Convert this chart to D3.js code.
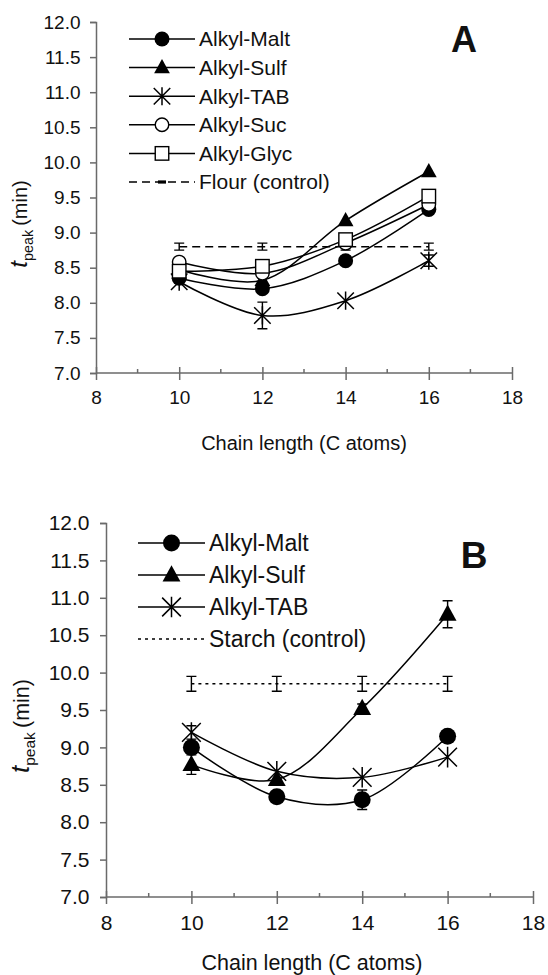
<!DOCTYPE html>
<html><head><meta charset="utf-8">
<script src="https://cdn.jsdelivr.net/npm/d3@7"></script>
<style>
body{margin:0;background:#fff}
svg{display:block}
text{font-family:"Liberation Sans",Arial,Helvetica,sans-serif;fill:#111}
</style>
</head><body>
<svg id="chart" width="548" height="975"></svg>
<script>
// ---------- data ----------
const chainLengths = [10, 12, 14, 16];
const xTickValues = [8, 10, 12, 14, 16, 18];
const xMinorTicks = [9, 11, 13, 15, 17];
const yTickValues = [7.0, 7.5, 8.0, 8.5, 9.0, 9.5, 10.0, 10.5, 11.0, 11.5, 12.0];

// Panel A (flour)
const namesA = ["Alkyl-Malt", "Alkyl-Sulf", "Alkyl-TAB", "Alkyl-Suc", "Alkyl-Glyc", "Flour (control)"];
const maltA  = [8.35, 8.20, 8.60, 9.33];
const sulfA  = [8.47, 8.32, 9.17, 9.87];
const tabA   = [8.30, 7.82, 8.03, 8.60];
const sucA   = [8.58, 8.42, 8.85, 9.40];
const glycA  = [8.45, 8.52, 8.90, 9.52];
const flourA = [8.80, 8.80, 8.80, 8.80];
const flourErrA = [0.05, 0.05, 0.05, 0.05];
const tabErrA   = [0, 0.19, 0, 0.08];

// Panel B (starch)
const namesB = ["Alkyl-Malt", "Alkyl-Sulf", "Alkyl-TAB", "Starch (control)"];
const maltB   = [9.00, 8.34, 8.30, 9.15];
const sulfB   = [8.77, 8.57, 9.52, 10.78];
const tabB    = [9.20, 8.68, 8.60, 8.87];
const starchB = [9.85, 9.85, 9.85, 9.85];
const starchErrB = [0.10, 0.10, 0.10, 0.10];
const maltErrB   = [0.05, 0, 0.13, 0];
const sulfErrB   = [0.13, 0, 0.06, 0.18];
const tabErrB    = [0.09, 0, 0, 0];

// ---------- drawing ----------
const svg = d3.select("#chart");

function marker(g, type, x, y, s) {
  const sw = 1.4;
  if (type === "circle") {
    g.append("circle").attr("cx", x).attr("cy", y).attr("r", s).attr("fill", "#000");
  } else if (type === "ocircle") {
    g.append("circle").attr("cx", x).attr("cy", y).attr("r", s * 0.9).attr("fill", "#fff").attr("stroke", "#000").attr("stroke-width", sw);
  } else if (type === "triangle") {
    const h = s * 1.9, w = s * 2.1;
    g.append("path").attr("d", `M${x},${y - h * 0.6}L${x + w / 2},${y + h * 0.4}L${x - w / 2},${y + h * 0.4}Z`).attr("fill", "#000");
  } else if (type === "square") {
    const a = s * 0.9;
    g.append("rect").attr("x", x - a).attr("y", y - a).attr("width", 2 * a).attr("height", 2 * a).attr("fill", "#fff").attr("stroke", "#000").attr("stroke-width", sw);
  } else if (type === "star") {
    const a = s * 1.1;
    g.append("path").attr("d", `M${x - a},${y - a}L${x + a},${y + a}M${x - a},${y + a}L${x + a},${y - a}M${x},${y - a * 1.1}L${x},${y + a * 1.1}`)
      .attr("stroke", "#000").attr("stroke-width", 1.5).attr("fill", "none");
  } else if (type === "dash") {
    g.append("rect").attr("x", x - 4).attr("y", y - 1.6).attr("width", 8).attr("height", 3.2).attr("fill", "#000");
  }
}

function drawPanel(cfg) {
  const g = svg.append("g");
  const x = d3.scaleLinear().domain([8, 18]).range([cfg.left, cfg.right]);
  const y = d3.scaleLinear().domain([7, 12]).range([cfg.bottom, cfg.top]);
  const axisColor = "#6a6a6a";

  // y axis
  const yAxis = g.append("g").attr("transform", `translate(${cfg.left},0)`)
    .call(d3.axisLeft(y).tickValues(yTickValues).tickFormat(d3.format(".1f")).tickSize(6).tickPadding(cfg.tickFont * 0.5));
  yAxis.select(".domain").attr("stroke", axisColor).attr("stroke-width", 1.5);
  yAxis.selectAll(".tick line").attr("stroke", axisColor).attr("stroke-width", 1.5);
  yAxis.selectAll(".tick text").attr("font-size", cfg.tickFont).attr("fill", "#111")
    .style("font-family", '"Liberation Sans",Arial,sans-serif');

  // x axis
  const xAxis = g.append("g").attr("transform", `translate(0,${cfg.bottom})`)
    .call(d3.axisBottom(x).tickValues(xTickValues).tickFormat(d3.format("d")).tickSize(7).tickPadding(cfg.tickFont * 0.55));
  xAxis.select(".domain").attr("stroke", axisColor).attr("stroke-width", 1.5).attr("d", `M${cfg.left},0H${cfg.right}`);
  xAxis.selectAll(".tick line").attr("stroke", axisColor).attr("stroke-width", 1.5).attr("y1", -6).attr("y2", 7);
  xAxis.selectAll(".tick text").attr("font-size", cfg.tickFont).attr("fill", "#111")
    .style("font-family", '"Liberation Sans",Arial,sans-serif');
  g.append("g").selectAll("line").data(xMinorTicks).join("line")
    .attr("x1", d => x(d)).attr("x2", d => x(d)).attr("y1", cfg.bottom - 4).attr("y2", cfg.bottom)
    .attr("stroke", axisColor).attr("stroke-width", 1.5);

  // axis titles
  g.append("text").attr("x", cfg.xTitleX).attr("y", cfg.xTitleY).attr("text-anchor", "middle")
    .attr("font-size", cfg.titleFont).text("Chain length (C atoms)");
  const yt = g.append("text").attr("transform", `translate(${cfg.yTitleX},${cfg.yTitleY}) rotate(-90)`)
    .attr("text-anchor", "middle");
  yt.append("tspan").attr("font-style", "italic").attr("font-size", cfg.titleFont * 1.2).text("t");
  yt.append("tspan").attr("font-size", cfg.titleFont * 0.72).attr("dy", cfg.titleFont * 0.3).text("peak");
  yt.append("tspan").attr("font-size", cfg.titleFont).attr("dy", -cfg.titleFont * 0.3).text("\u2009(min)");

  // panel letter
  g.append("text").attr("x", cfg.letterX).attr("y", cfg.letterY).attr("text-anchor", "middle")
    .attr("font-size", cfg.letterFont).attr("font-weight", "bold").text(cfg.letter);

  // control line
  const line = d3.line().x((d, i) => x(chainLengths[i])).y(d => y(d));
  g.append("path").attr("d", line(cfg.control.values)).attr("fill", "none").attr("stroke", "#000")
    .attr("stroke-width", 1.5).attr("stroke-dasharray", cfg.control.dash);

  // series lines
  const smooth = d3.line().x((d, i) => x(chainLengths[i])).y(d => y(d)).curve(d3.curveCatmullRom.alpha(0.5));
  cfg.series.forEach(s => {
    g.append("path").attr("d", smooth(s.values)).attr("fill", "none").attr("stroke", "#000").attr("stroke-width", 1.5);
  });

  // error bars
  const allErr = cfg.series.filter(s => s.err).concat([cfg.control]);
  allErr.forEach(s => {
    s.values.forEach((v, i) => {
      const e = s.err[i];
      if (!e) return;
      const cx = x(chainLengths[i]);
      const y1 = y(v - e), y2 = y(v + e);
      g.append("path").attr("d", `M${cx},${y1}V${y2}M${cx - 5},${y1}H${cx + 5}M${cx - 5},${y2}H${cx + 5}`)
        .attr("stroke", "#000").attr("stroke-width", 1.4).attr("fill", "none");
    });
  });

  // markers
  cfg.series.forEach(s => {
    s.values.forEach((v, i) => marker(g, s.type, x(chainLengths[i]), y(v), cfg.markerSize));
  });

  // legend
  const entries = cfg.series.concat([cfg.control]);
  entries.forEach((s, i) => {
    const ly = cfg.legY + i * cfg.legStep;
    const lg = g.append("g");
    lg.append("line").attr("x1", cfg.legX0).attr("x2", cfg.legX1).attr("y1", ly).attr("y2", ly)
      .attr("stroke", "#000").attr("stroke-width", 1.5).attr("stroke-dasharray", s.dash || null);
    if (s.legendMarker) marker(lg, s.legendMarker, (cfg.legX0 + cfg.legX1) / 2, ly, cfg.markerSize);
    lg.append("text").attr("x", cfg.legX1 + 4).attr("y", ly).attr("dy", "0.35em")
      .attr("font-size", cfg.legFont).text(s.name);
  });
}

drawPanel({
  left: 96, right: 512, top: 22, bottom: 373,
  tickFont: 19, titleFont: 20, legFont: 21,
  xTitleX: 304, xTitleY: 450, yTitleX: 27, yTitleY: 224,
  letter: "A", letterX: 464, letterY: 52, letterFont: 36,
  markerSize: 7.5,
  legX0: 129, legX1: 195, legY: 39, legStep: 28.6,
  series: [
    {name: namesA[0], values: maltA, type: "circle", legendMarker: "circle"},
    {name: namesA[1], values: sulfA, type: "triangle", legendMarker: "triangle"},
    {name: namesA[2], values: tabA, type: "star", legendMarker: "star", err: tabErrA},
    {name: namesA[3], values: sucA, type: "ocircle", legendMarker: "ocircle"},
    {name: namesA[4], values: glycA, type: "square", legendMarker: "square"}
  ],
  control: {name: namesA[5], values: flourA, err: flourErrA, dash: "8,5", legendMarker: "dash"}
});

drawPanel({
  left: 106, right: 533, top: 523, bottom: 897,
  tickFont: 21, titleFont: 21.5, legFont: 23,
  xTitleX: 312, xTitleY: 970, yTitleX: 29, yTitleY: 726,
  letter: "B", letterX: 474, letterY: 568, letterFont: 37,
  markerSize: 8.5,
  legX0: 138, legX1: 205, legY: 543, legStep: 32,
  series: [
    {name: namesB[0], values: maltB, type: "circle", legendMarker: "circle", err: maltErrB},
    {name: namesB[1], values: sulfB, type: "triangle", legendMarker: "triangle", err: sulfErrB},
    {name: namesB[2], values: tabB, type: "star", legendMarker: "star", err: tabErrB}
  ],
  control: {name: namesB[3], values: starchB, err: starchErrB, dash: "3,4"}
});
</script>
</body></html>
